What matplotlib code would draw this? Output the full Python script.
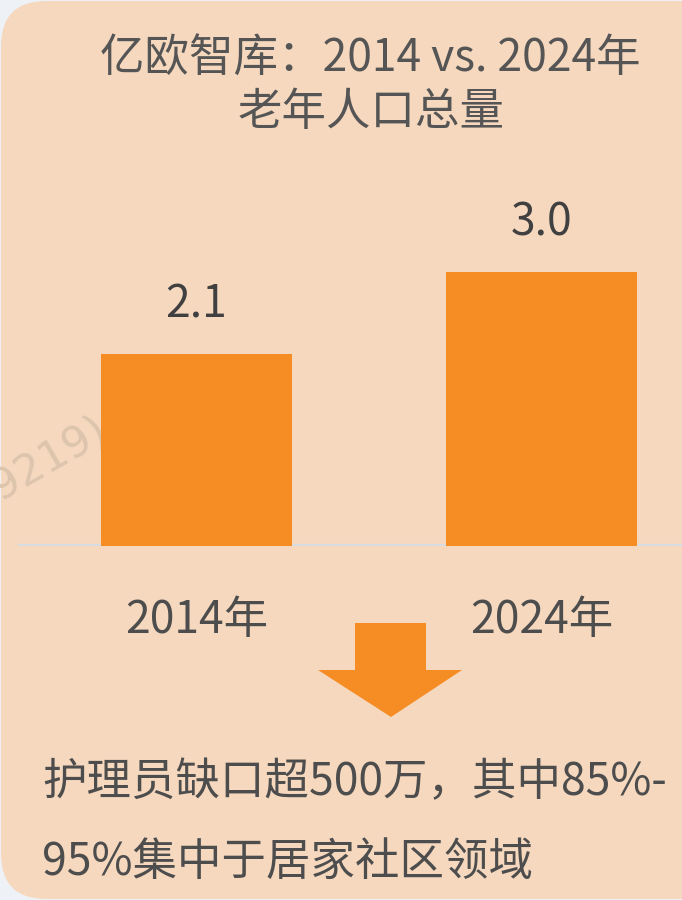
import matplotlib
matplotlib.use('Agg')
import matplotlib.pyplot as plt
from matplotlib.patches import FancyBboxPatch, Polygon
from matplotlib.transforms import IdentityTransform

plt.rcParams['font.family'] = ['Noto Sans CJK SC', 'DejaVu Sans']

# data
years = ['2014年', '2024年']
values = [2.1, 3.0]
value_labels = ['2.1', '3.0']
title_lines = ['亿欧智库：2014 vs. 2024年', '老年人口总量']
note_lines = ['护理员缺口超500万，其中85%-', '95%集中于居家社区领域']

W, H = 682, 900
BG = '#EEF2F6'
CARD = '#F5D8BE'
ORANGE = '#F68D24'
TEXT = '#4D4D4D'
FS = 32

fig = plt.figure(figsize=(W / 100, H / 100), dpi=100)
fig.patch.set_facecolor(BG)

# rounded card, right side runs off the picture
card = FancyBboxPatch((1, 1), 800, 898, boxstyle='round,pad=0,rounding_size=45',
                      transform=IdentityTransform(), facecolor=CARD,
                      edgecolor='none', zorder=-5)
fig.patches.append(card)

# faint watermark (cut at the left edge, like the source)
fig.text(110 / W, 1 - 437 / H, '39219)', rotation=30, rotation_mode='anchor',
         ha='right', va='baseline', fontsize=31, color='#DCC4AD',
         family=['DejaVu Sans'], zorder=-4)

# bars
ax = fig.add_axes([0, 354 / H, 1, 300 / H])
ax.set_facecolor('none')
px_per_unit = 91.4
ax.set_ylim(0, 300 / px_per_unit)
ax.set_xlim(-0.5696, 1.4072)
x = range(len(years))
bars = ax.bar(x, values, width=0.5536, color=ORANGE, zorder=3)
ax.axhline(0, xmin=20 / W, xmax=1, color='#D8DCE0', lw=3, zorder=2)

for xi, v, lab in zip(x, values, value_labels):
    ax.annotate(lab, (xi, v), xytext=(0, 26), textcoords='offset points',
                ha='center', va='baseline', fontsize=FS, color='#404040')

ax.set_xticks(list(x), years)
ax.tick_params(axis='x', length=0, pad=37, labelsize=FS, labelcolor=TEXT)
ax.set_yticks([])
for s in ax.spines.values():
    s.set_visible(False)

# title
fig.text(370 / W, 1 - 71 / H, title_lines[0], ha='center', va='baseline',
         fontsize=FS, color='#555555')
fig.text(371 / W, 1 - 125 / H, title_lines[1], ha='center', va='baseline',
         fontsize=FS, color='#555555')

# down arrow
arrow_px = [(355, 623), (426, 623), (426, 670), (462, 670), (391, 717),
            (318, 670), (355, 670)]
arrow = Polygon([(px / W, 1 - py / H) for px, py in arrow_px], closed=True,
                transform=fig.transFigure, facecolor=ORANGE, edgecolor='none')
fig.patches.append(arrow)

# note
fig.text(42 / W, 1 - 795 / H, note_lines[0], ha='left', va='baseline',
         fontsize=FS, color=TEXT)
fig.text(42 / W, 1 - 875 / H, note_lines[1], ha='left', va='baseline',
         fontsize=FS, color=TEXT)

fig.savefig('out.png', dpi=100, facecolor=fig.get_facecolor())
